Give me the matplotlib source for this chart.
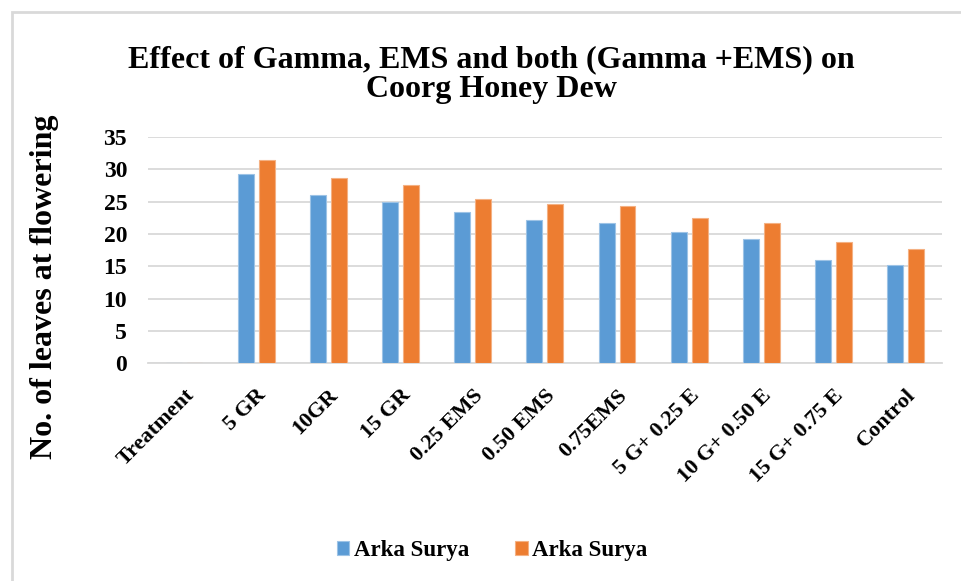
import numpy as np
import matplotlib
matplotlib.use("Agg")
import matplotlib.pyplot as plt
from matplotlib.patches import Rectangle

# data
treatments = ["Treatment", "5 GR", "10GR", "15 GR", "0.25 EMS", "0.50 EMS",
              "0.75EMS", "5 G+ 0.25 E", "10 G+ 0.50 E", "15 G+ 0.75 E", "Control"]
series_1 = [0, 29.3, 26.1, 25.0, 23.4, 22.2, 21.7, 20.3, 19.2, 16.0, 15.2]
series_2 = [0, 31.5, 28.6, 27.6, 25.4, 24.6, 24.3, 22.4, 21.7, 18.8, 17.7]
series_names = ["Arka Surya", "Arka Surya"]
yticks = [0, 5, 10, 15, 20, 25, 30, 35]

plt.rcParams["font.family"] = ["Liberation Serif", "DejaVu Serif"]
plt.rcParams["font.weight"] = "bold"

fig = plt.figure(figsize=(9.61, 5.81), dpi=100)
ax = fig.add_axes([0.154, 0.375, 0.826, 0.389])

x = np.arange(len(treatments))
w = 0.22
off = 0.145
ax.bar(x - off, series_1, w, color="#5B9BD5", edgecolor="#9DC3E6", linewidth=0.8,
       label=series_names[0], zorder=3)
ax.bar(x + off, series_2, w, color="#ED7D31", edgecolor="#F4B183", linewidth=0.8,
       label=series_names[1], zorder=3)

ax.set_xlim(-0.5, len(treatments) - 0.5)
ax.set_ylim(0, 35)
ax.set_yticks(yticks)
ax.yaxis.grid(True, color="#d9d9d9", linewidth=1.3, zorder=0)
for s in ["top", "right", "left"]:
    ax.spines[s].set_visible(False)
ax.spines["bottom"].set_color("#d9d9d9")
ax.spines["bottom"].set_linewidth(1.3)
ax.tick_params(axis="y", length=0, pad=15, labelsize=17)
ax.tick_params(axis="x", length=0, pad=16)
ax.set_xticks(x)
ax.set_xticklabels(treatments, rotation=45, ha="right", rotation_mode="anchor",
                   fontsize=16, fontweight="bold")
for lab in ax.get_yticklabels():
    lab.set_fontweight("bold")

ax.set_ylabel("No. of leaves at flowering", fontsize=23, fontweight="bold")
ax.yaxis.set_label_coords(-0.112, 0.34)

fig.text(0.511, 0.872, "Effect of Gamma, EMS and both (Gamma +EMS) on\nCoorg Honey Dew",
         ha="center", va="center", fontsize=23, fontweight="bold", linespacing=1.05)

fig.legend(loc="center", bbox_to_anchor=(0.512, 0.053), ncol=2, frameon=False,
           handlelength=0.55, handleheight=0.55, columnspacing=2.0,
           handletextpad=0.2,
           prop={"family": "Liberation Serif", "weight": "bold", "size": 16.5})

# chart border (only left and top visible in the crop)
fig.patches.append(Rectangle((0.012, -0.1), 1.1, 1.079, transform=fig.transFigure,
                             fill=False, edgecolor="#d9d9d9", linewidth=2))

fig.savefig("out.png", dpi=100)
